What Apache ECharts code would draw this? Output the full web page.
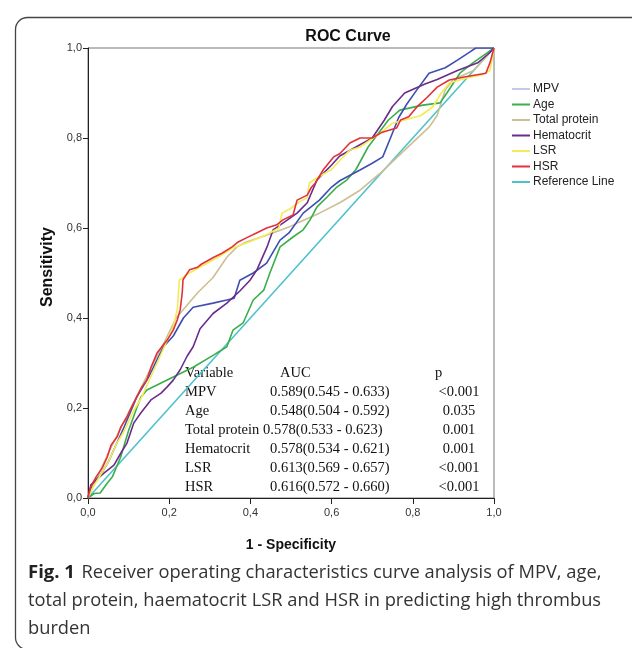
<!DOCTYPE html>
<html><head><meta charset="utf-8">
<script src="https://cdn.jsdelivr.net/npm/echarts@6/dist/echarts.min.js"></script>
<style>html,body{margin:0;padding:0;background:#fff}#c{width:632px;height:648px}</style>
</head><body><div id="c"></div>
<script>
// ---- data ----
const seriesNames = ['MPV','Age','Total protein','Hematocrit','LSR','HSR','Reference Line'];

const mpvX = [0,0.01,0.03,0.05,0.07,0.09,0.12,0.15,0.17,0.186,0.21,0.235,0.259,0.308,0.342,0.36,0.374,0.407,0.44,0.473,0.495,0.53,0.57,0.6,0.62,0.67,0.70,0.726,0.745,0.765,0.785,0.81,0.84,0.88,0.91,0.94,0.955,1];
const mpvY = [0,0.03,0.05,0.08,0.12,0.16,0.224,0.27,0.307,0.336,0.36,0.40,0.424,0.433,0.44,0.444,0.484,0.5,0.522,0.573,0.589,0.633,0.662,0.691,0.705,0.729,0.744,0.758,0.80,0.845,0.875,0.907,0.944,0.956,0.973,0.991,1,1];

const ageX = [0,0.015,0.03,0.045,0.06,0.08,0.1,0.12,0.13,0.145,0.21,0.26,0.31,0.342,0.357,0.382,0.407,0.433,0.448,0.473,0.505,0.53,0.547,0.564,0.589,0.613,0.638,0.66,0.69,0.74,0.768,0.825,0.867,0.884,0.916,0.948,0.983,1];
const ageY = [0,0.01,0.011,0.03,0.047,0.09,0.15,0.2,0.224,0.24,0.269,0.291,0.318,0.336,0.373,0.389,0.44,0.462,0.5,0.558,0.58,0.596,0.618,0.647,0.669,0.691,0.707,0.73,0.78,0.84,0.862,0.873,0.878,0.9,0.944,0.967,0.989,1];

const proteinX = [0,0.02,0.05,0.1,0.15,0.19,0.217,0.27,0.308,0.342,0.367,0.39,0.44,0.495,0.52,0.57,0.62,0.67,0.72,0.78,0.84,0.86,0.88,0.90,0.95,1];
const proteinY = [0,0.04,0.1,0.19,0.28,0.35,0.40,0.456,0.49,0.535,0.558,0.569,0.584,0.602,0.613,0.633,0.656,0.684,0.722,0.773,0.824,0.85,0.907,0.93,0.95,1];

const hctX = [0,0.007,0.02,0.04,0.064,0.081,0.096,0.113,0.13,0.155,0.18,0.195,0.21,0.227,0.244,0.259,0.276,0.308,0.342,0.374,0.399,0.416,0.441,0.456,0.48,0.515,0.54,0.564,0.6,0.62,0.66,0.70,0.73,0.75,0.78,0.83,0.86,0.91,0.96,0.99,1];
const hctY = [0,0.029,0.04,0.056,0.073,0.1,0.122,0.167,0.189,0.218,0.233,0.247,0.262,0.285,0.315,0.336,0.376,0.41,0.433,0.46,0.484,0.507,0.558,0.596,0.611,0.633,0.656,0.707,0.74,0.76,0.78,0.80,0.84,0.87,0.90,0.92,0.93,0.95,0.967,0.99,1];

const lsrX = [0,0.01,0.03,0.05,0.07,0.09,0.11,0.13,0.15,0.17,0.19,0.21,0.22,0.225,0.24,0.26,0.29,0.32,0.355,0.4,0.44,0.47,0.478,0.5,0.52,0.54,0.545,0.57,0.6,0.62,0.645,0.67,0.72,0.75,0.78,0.82,0.85,0.87,0.89,0.93,0.97,0.99,1];
const lsrY = [0,0.02,0.05,0.08,0.12,0.15,0.19,0.22,0.26,0.30,0.34,0.38,0.42,0.484,0.495,0.505,0.52,0.535,0.555,0.57,0.585,0.6,0.633,0.644,0.658,0.667,0.70,0.715,0.73,0.75,0.773,0.78,0.811,0.833,0.84,0.85,0.87,0.9,0.922,0.933,0.94,0.95,1];

const hsrX = [0,0.005,0.01,0.02,0.035,0.047,0.057,0.072,0.081,0.096,0.106,0.12,0.133,0.145,0.155,0.17,0.195,0.21,0.22,0.227,0.232,0.234,0.25,0.27,0.28,0.31,0.33,0.355,0.37,0.39,0.415,0.44,0.465,0.48,0.505,0.515,0.54,0.55,0.56,0.58,0.605,0.62,0.645,0.67,0.70,0.725,0.76,0.77,0.79,0.81,0.835,0.86,0.89,0.93,0.98,0.99,1];
const hsrY = [0,0.02,0.03,0.047,0.067,0.09,0.118,0.136,0.158,0.18,0.2,0.224,0.247,0.262,0.29,0.322,0.351,0.373,0.396,0.418,0.455,0.485,0.507,0.513,0.52,0.535,0.544,0.558,0.569,0.578,0.589,0.6,0.607,0.618,0.629,0.662,0.673,0.69,0.70,0.73,0.758,0.765,0.789,0.80,0.80,0.813,0.822,0.84,0.847,0.869,0.89,0.913,0.929,0.936,0.944,0.967,1];

const refX = [0,1];
const refY = [0,1];

const tickValues = [0,0.2,0.4,0.6,0.8,1.0];

const tableVariables = ['MPV','Age','Total protein','Hematocrit','LSR','HSR'];
const tableAUC = ['0.589(0.545 - 0.633)','0.548(0.504 - 0.592)','0.578(0.533 - 0.623)','0.578(0.534 - 0.621)','0.613(0.569 - 0.657)','0.616(0.572 - 0.660)'];
const tableP = ['<0.001','0.035','0.001','0.001','<0.001','<0.001'];

const captionBold = 'Fig. 1';
const captionLines = ['Receiver operating characteristics curve analysis of MPV, age,', 'total protein, haematocrit LSR and HSR in predicting high thrombus', 'burden'];

// ---- styles ----
const colors = {
  'MPV':'#3d4fb0','Age':'#3aae4a','Total protein':'#cdbf95','Hematocrit':'#6b2c8c',
  'LSR':'#f2ec55','HSR':'#e3303a','Reference Line':'#4ec2cc'
};
const pairs = (xs, ys) => xs.map((x, i) => [x, ys[i]]);
const dataMap = {
  'Reference Line': pairs(refX, refY),
  'Total protein': pairs(proteinX, proteinY),
  'Age': pairs(ageX, ageY),
  'MPV': pairs(mpvX, mpvY),
  'Hematocrit': pairs(hctX, hctY),
  'LSR': pairs(lsrX, lsrY),
  'HSR': pairs(hsrX, hsrY)
};
const drawOrder = ['Reference Line','Total protein','Age','MPV','Hematocrit','LSR','HSR'];
const series = drawOrder.map(n => ({
  name: n, type: 'line', data: dataMap[n], showSymbol: false, symbol: 'none',
  lineStyle: { color: colors[n], width: 1.6 }, itemStyle: { color: colors[n] },
  animation: false, z: 3
}));

const fmt = v => v.toFixed(1).replace('.', ',');
const serif = "'Liberation Serif','Times New Roman',serif";
const sans = "'Liberation Sans',Arial,sans-serif";
const capFont = "'Open Sans','Noto Sans',sans-serif";

const graphics = [];
// outer rounded frame
graphics.push({ type:'rect', left:13, top:15, shape:{ width:640, height:632, r:12 }, style:{ fill:'none', stroke:'#444', lineWidth:1.3 }, z:0, silent:true });
// table header
graphics.push({ type:'text', x:185, y:373, style:{ text:'Variable', font:`14.5px ${serif}`, fill:'#111', textVerticalAlign:'middle' } });
graphics.push({ type:'text', x:280, y:373, style:{ text:'AUC', font:`14.5px ${serif}`, fill:'#111', textVerticalAlign:'middle' } });
graphics.push({ type:'text', x:435, y:373, style:{ text:'p', font:`14.5px ${serif}`, fill:'#111', textVerticalAlign:'middle' } });
tableVariables.forEach((v, i) => {
  const y = 392 + i * 19.1;
  graphics.push({ type:'text', x:185, y:y, style:{ text:v, font:`14.5px ${serif}`, fill:'#111', textVerticalAlign:'middle' } });
  graphics.push({ type:'text', x:(v === 'Total protein' ? 263 : 270), y:y, style:{ text:tableAUC[i], font:`14.5px ${serif}`, fill:'#111', textVerticalAlign:'middle' } });
  graphics.push({ type:'text', x:459, y:y, style:{ text:tableP[i], font:`14.5px ${serif}`, fill:'#111', textAlign:'center', textVerticalAlign:'middle' } });
});
// axis names
graphics.push({ type:'text', x:291, y:545, style:{ text:'1 - Specificity', font:`bold 14px ${sans}`, fill:'#111', textAlign:'center', textVerticalAlign:'middle' } });
graphics.push({ type:'text', x:48, y:267, rotation:Math.PI/2, style:{ text:'Sensitivity', font:`bold 16px ${sans}`, fill:'#111', textAlign:'center', textVerticalAlign:'middle' } });
// caption
graphics.push({ type:'text', x:28, y:573, style:{
  text:'{b|' + captionBold + '}  {n|' + captionLines[0] + '}', textVerticalAlign:'middle',
  rich:{ b:{ font:`bold 18.5px ${capFont}`, fill:'#222' }, n:{ font:`18.3px ${capFont}`, fill:'#333' } }
} });
captionLines.slice(1).forEach((l, i) => {
  graphics.push({ type:'text', x:28, y:601 + i * 28, style:{ text:l, font:`18.3px ${capFont}`, fill:'#333', textVerticalAlign:'middle' } });
});

const chart = echarts.init(document.getElementById('c'));
chart.setOption({
  animation: false,
  backgroundColor: '#fff',
  title: { text:'ROC Curve', left:343, top:24, textAlign:'center', textStyle:{ fontFamily:sans, fontSize:16, fontWeight:'bold', color:'#111' } },
  legend: {
    orient:'vertical', left:512, top:82.5, padding:0, itemWidth:18, itemHeight:2, itemGap:2.5, icon:'rect',
    textStyle:{ fontFamily:sans, fontSize:12, color:'#222', lineHeight:13, padding:[0,0,0,-2] },
    data: seriesNames.map(n => n === 'MPV' ? { name:n, itemStyle:{ color:'#c5c9ea' } } : { name:n })
  },
  grid: { left:88, right:138, top:48, bottom:150, show:true, borderColor:'#777', borderWidth:1, backgroundColor:'#fff' },
  xAxis: {
    type:'value', min:0, max:1, interval:0.2,
    axisLine:{ show:true, lineStyle:{ color:'#222', width:1 } },
    axisTick:{ show:true, length:6, lineStyle:{ color:'#222' } },
    axisLabel:{ formatter:fmt, fontFamily:sans, fontSize:11, color:'#333', margin:9 },
    splitLine:{ show:false }
  },
  yAxis: {
    type:'value', min:0, max:1, interval:0.2,
    axisLine:{ show:true, lineStyle:{ color:'#222', width:1 } },
    axisTick:{ show:true, length:5, lineStyle:{ color:'#222' } },
    axisLabel:{ formatter:fmt, fontFamily:sans, fontSize:11, color:'#333', margin:6 },
    splitLine:{ show:false }
  },
  series: series,
  graphic: graphics
});
</script></body></html>
